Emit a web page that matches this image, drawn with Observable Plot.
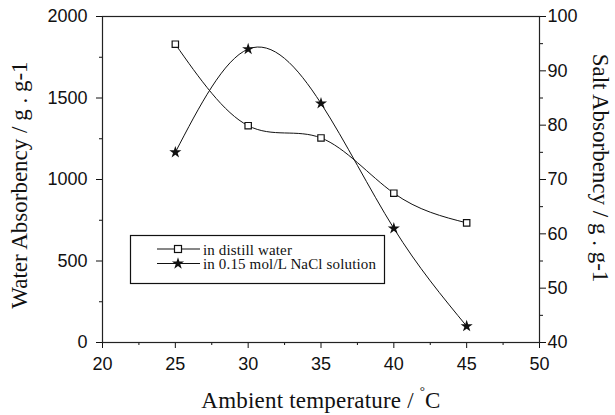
<!DOCTYPE html>
<html>
<head>
<meta charset="utf-8">
<script src="https://cdn.jsdelivr.net/npm/d3@7"></script>
<script src="https://cdn.jsdelivr.net/npm/@observablehq/plot@0.6"></script>
<style>
  html, body { margin: 0; padding: 0; background: #fff; }
  #chart { position: relative; width: 615px; height: 415px; }
  #chart > svg { position: absolute; left: 0; top: 0; }
</style>
</head>
<body>
<div id="chart"></div>
<script>
// ---- data ----
const temperatures = [25, 30, 35, 40, 45];
const waterAbsorbency = [1830, 1330, 1255, 916, 734];   // in distill water (left axis)
const saltAbsorbency = [75, 94, 84, 61, 43];            // in 0.15 mol/L NaCl solution (right axis)
const xTicks = [20, 25, 30, 35, 40, 45, 50];
const xMinorTicks = [22.5, 27.5, 32.5, 37.5, 42.5, 47.5];
const leftTicks = [0, 500, 1000, 1500, 2000];
const leftMinorTicks = [250, 750, 1250, 1750];
const rightTicks = [40, 50, 60, 70, 80, 90, 100];
const rightMinorTicks = [45, 55, 65, 75, 85, 95];
const seriesNames = ["in distill water", "in 0.15 mol/L NaCl solution"];
const xTitle = "Ambient temperature / ";
const xTitleUnit = "C";
const leftTitle = "Water Absorbency / g . g-1";
const rightTitle = "Salt Absorbency / g . g-1";

const water = temperatures.map((t, i) => ({t, v: waterAbsorbency[i]}));
const salt = temperatures.map((t, i) => ({t, v: saltAbsorbency[i]}));

const W = 615, H = 415;
const margins = {marginLeft: 102, marginRight: 76, marginTop: 16, marginBottom: 73};
const style = {fontFamily: "'Liberation Sans', Arial, sans-serif", fontSize: "18px", background: "transparent", color: "#111"};
const fmt = d => `${d}`;

const p1 = Plot.plot({
  width: W, height: H, ...margins, style,
  x: {domain: [20, 50], label: null},
  y: {domain: [0, 2000], label: null},
  marks: [
    Plot.axisX({ticks: xTicks, tickSize: 6, tickPadding: 9, fontSize: 18, label: null, tickFormat: fmt}),
    Plot.axisX({ticks: xMinorTicks, tickSize: 3, text: null, label: null}),
    Plot.axisY({ticks: leftTicks, tickSize: 6, tickPadding: 9, fontSize: 18, label: null, tickFormat: fmt}),
    Plot.axisY({ticks: leftMinorTicks, tickSize: 3, text: null, label: null}),
    Plot.frame({stroke: "#222", strokeWidth: 1.2}),
    Plot.line(water, {x: "t", y: "v", curve: "natural", stroke: "#111", strokeWidth: 1}),
    Plot.dot(water, {x: "t", y: "v", symbol: "square", r: 3.6, fill: "white", stroke: "#111", strokeWidth: 1.2})
  ]
});

const p2 = Plot.plot({
  width: W, height: H, ...margins, style,
  x: {domain: [20, 50], axis: null},
  y: {domain: [40, 100], label: null},
  marks: [
    Plot.axisY({anchor: "right", ticks: rightTicks, tickSize: 6, tickPadding: 2, fontSize: 18, label: null, tickFormat: fmt}),
    Plot.axisY({anchor: "right", ticks: rightMinorTicks, tickSize: 3, text: null, label: null}),
    Plot.line(salt, {x: "t", y: "v", curve: "natural", stroke: "#111", strokeWidth: 1}),
    Plot.dot(salt, {x: "t", y: "v", symbol: "star", r: 3.8, fill: "#111", stroke: "none"})
  ]
});

const chart = document.getElementById("chart");
chart.appendChild(p1);
chart.appendChild(p2);

// ---- titles and legend overlay ----
const ov = d3.create("svg").attr("width", W).attr("height", H)
  .attr("font-family", "'Liberation Serif', 'Times New Roman', serif").attr("fill", "#111");

const xt = ov.append("text").attr("x", 321).attr("y", 408).attr("text-anchor", "middle")
  .attr("font-size", 23).attr("letter-spacing", 0.2);
xt.append("tspan").text(xTitle);
xt.append("tspan").attr("font-size", 13).attr("dy", -13).text("°");
xt.append("tspan").attr("dy", 13).text(xTitleUnit);

ov.append("text").attr("transform", "translate(27,185) rotate(-90)").attr("text-anchor", "middle")
  .attr("font-size", 23).text(leftTitle);
ov.append("text").attr("transform", "translate(593,168) rotate(90)").attr("text-anchor", "middle")
  .attr("font-size", 23).text(rightTitle);

const lg = ov.append("g");
lg.append("rect").attr("x", 130.5).attr("y", 235.5).attr("width", 254).attr("height", 48)
  .attr("fill", "white").attr("stroke", "#111").attr("stroke-width", 1.2);
const rows = [249, 263.5];
rows.forEach((ry, i) => {
  lg.append("line").attr("x1", 157).attr("x2", 200).attr("y1", ry).attr("y2", ry)
    .attr("stroke", "#111").attr("stroke-width", 1.2);
  if (i === 0) {
    lg.append("rect").attr("x", 174.5).attr("y", ry - 3.5).attr("width", 7).attr("height", 7)
      .attr("fill", "white").attr("stroke", "#111").attr("stroke-width", 1.2);
  } else {
    lg.append("path").attr("transform", `translate(178,${ry})`)
      .attr("d", d3.symbol(d3.symbolStar, Math.PI * 3.8 * 3.8)()).attr("fill", "#111");
  }
  lg.append("text").attr("x", 203).attr("y", ry + 5.5).attr("font-size", 15)
    .attr("letter-spacing", 0.15).text(seriesNames[i]);
});

chart.appendChild(ov.node());
</script>
</body>
</html>
